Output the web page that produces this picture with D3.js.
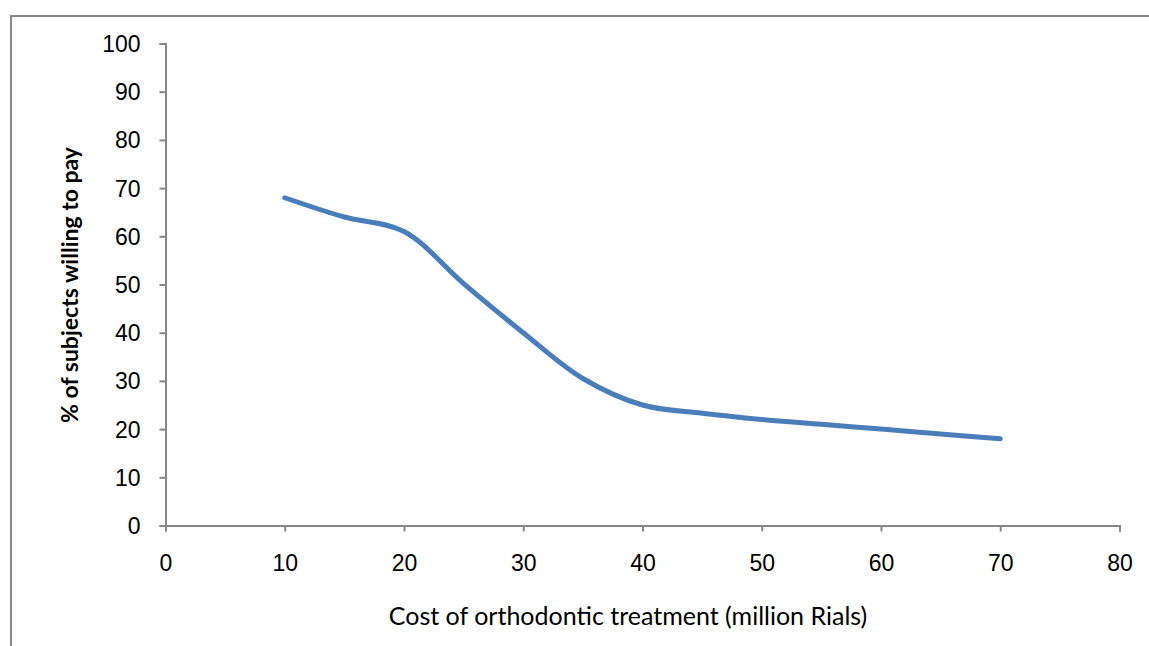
<!DOCTYPE html>
<html>
<head>
<meta charset="utf-8">
<script src="https://cdn.jsdelivr.net/npm/d3@7"></script>
<style>
  html, body { margin: 0; padding: 0; background: #fff; }
  svg { display: block; }
</style>
</head>
<body>
<svg id="chart" width="1149" height="646"></svg>
<script>
const costs = [10, 15, 20, 25, 30, 35, 40, 45, 50, 55, 60, 65, 70];
const willing = [68, 64, 61, 50.2, 40, 30.5, 25, 23.3, 22, 21, 20, 19, 18];
const xTicks = [0, 10, 20, 30, 40, 50, 60, 70, 80];
const yTicks = [0, 10, 20, 30, 40, 50, 60, 70, 80, 90, 100];
const xTitle = "Cost of orthodontic treatment (million Rials)";
const yTitle = "% of subjects willing to pay";

const svg = d3.select("#chart");
const axisColor = "#868686";

// outer chart border
svg.append("rect")
  .attr("x", 11).attr("y", 16)
  .attr("width", 1160).attr("height", 660)
  .attr("fill", "none").attr("stroke", "#888").attr("stroke-width", 2);

const x = d3.scaleLinear().domain([0, 80]).range([165.5, 1119.5]);
const y = d3.scaleLinear().domain([0, 100]).range([525.5, 43.5]);

const xAxis = svg.append("g")
  .attr("transform", `translate(0,${y(0)})`)
  .call(d3.axisBottom(x).tickValues(xTicks).tickSize(6).tickPadding(23).tickFormat(d3.format("d")));
const yAxis = svg.append("g")
  .attr("transform", `translate(${x(0)},0)`)
  .call(d3.axisLeft(y).tickValues(yTicks).tickSize(6).tickPadding(19).tickFormat(d3.format("d")));

[xAxis, yAxis].forEach(g => {
  g.select(".domain").attr("stroke", axisColor).attr("stroke-width", 2);
  g.selectAll(".tick line").attr("stroke", axisColor).attr("stroke-width", 2);
  g.selectAll(".tick text")
    .attr("fill", "#000")
    .style("font-family", "'Liberation Sans', Arial, sans-serif")
    .style("font-size", "23px");
});
yAxis.selectAll(".tick text").attr("dy", "0.35em");

const line = d3.line()
  .x((d, i) => x(costs[i]))
  .y(d => y(d))
  .curve(d3.curveCatmullRom.alpha(0.5));

svg.append("path")
  .datum(willing)
  .attr("d", line)
  .attr("fill", "none")
  .attr("stroke", "#4a7ebb")
  .attr("stroke-width", 5)
  .attr("stroke-linecap", "round")
  .attr("stroke-linejoin", "round");

svg.append("text")
  .attr("x", 628).attr("y", 625)
  .attr("text-anchor", "middle")
  .style("font-family", "Lato, 'Open Sans', sans-serif")
  .style("font-size", "25px")
  .attr("fill", "#000")
  .text(xTitle);

svg.append("text")
  .attr("transform", "translate(78,285) rotate(-90)")
  .attr("text-anchor", "middle")
  .style("font-family", "Lato, 'Open Sans', sans-serif")
  .style("font-size", "23px")
  .style("font-weight", "bold")
  .attr("fill", "#000")
  .text(yTitle);
</script>
</body>
</html>
